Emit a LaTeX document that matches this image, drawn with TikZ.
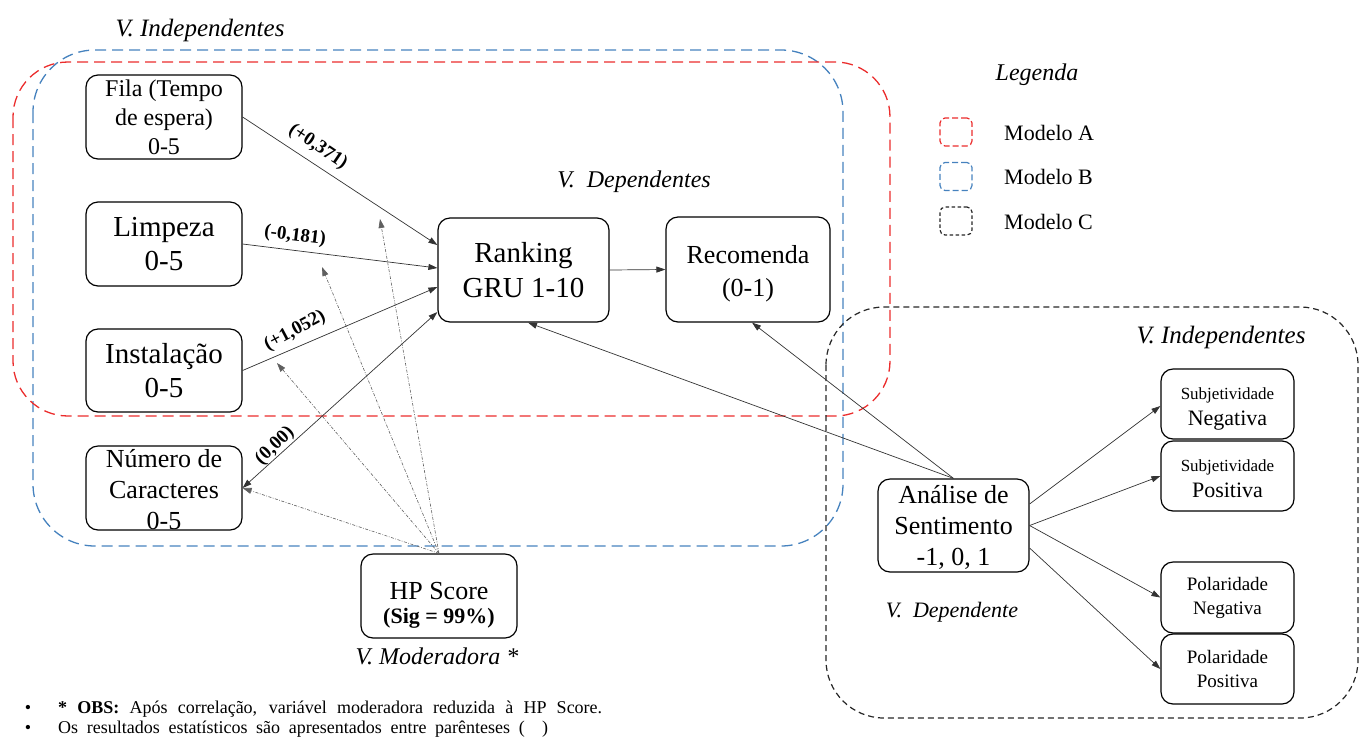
\documentclass[tikz,border=0pt]{standalone}
\usepackage{fontspec}
\setmainfont{Liberation Serif}
\usetikzlibrary{arrows.meta,calc}
\definecolor{redA}{RGB}{235,45,45}
\definecolor{blueB}{RGB}{70,130,190}
\definecolor{grayD}{RGB}{95,95,95}
\newcommand{\fs}[2]{\fontsize{#1}{#2}\selectfont}
\begin{document}
\begin{tikzpicture}[x=1pt,y=-1pt,
  box/.style={draw, line width=1.2pt, rounded corners=12pt, align=center, inner sep=0pt, fill=white},
  btext/.style={align=center, inner sep=0pt},
  conn/.style={line width=0.7pt, draw=black!80, -{Triangle[length=9pt,width=6pt]}},
  modline/.style={line width=0.6pt, draw=grayD, dash pattern=on 3pt off 1.5pt on 0.8pt off 1.5pt, -{Triangle[length=9pt,width=6pt]}},
  coef/.style={font=\fs{19}{21}\bfseries, inner sep=1pt},
  vlab/.style={font=\fs{25}{28}\itshape, inner sep=0pt},
  groupA/.style={draw=redA, line width=1.3pt, dash pattern=on 11pt off 6pt, rounded corners=55pt},
  groupB/.style={draw=blueB, line width=1.3pt, dash pattern=on 11pt off 6pt, rounded corners=62pt},
  groupC/.style={draw=black!85, line width=1.2pt, dash pattern=on 6pt off 4pt, rounded corners=58pt},
  legbox/.style={minimum width=32pt, minimum height=28pt, inner sep=0pt, rounded corners=5pt, line width=1.2pt},
  legtext/.style={font=\fs{22}{24}, anchor=west, inner sep=0pt}
]
\useasboundingbox (0,0) rectangle (1359,740);

% group frames
\draw[groupB] (33,50) rectangle (843,546);
\draw[groupA] (13,62) rectangle (890,416);
\draw[groupC] (826,307) rectangle (1358,718);

% group labels
\node[vlab] (vi1) at (200,30) {V. Independentes};
\node[vlab, font=\fs{24}{28}\itshape] (vd1) at (634,182) {V.\ \ Dependentes};
\node[vlab] (vi2) at (1221,337) {V. Independentes};
\node[vlab, font=\fs{22}{26}\itshape] (vd2) at (952,612) {V.\ \ Dependente};
\node[vlab, font=\fs{24}{28}\itshape] (vm) at (437,656) {V. Moderadora *};

% boxes
\node[box, minimum width=156pt, minimum height=84pt, font=\fs{24}{29}] (fila) at (164,117) {Fila (Tempo\\de espera)\\0-5};
\node[box, minimum width=156pt, minimum height=84pt, font=\fs{29}{34}] (limp) at (164,244) {Limpeza\\0-5};
\node[box, minimum width=156pt, minimum height=83pt, font=\fs{29}{34}] (inst) at (164,370.5) {Instalação\\0-5};
\node[box, minimum width=156pt, minimum height=84pt] (num) at (164,488) {};
\node[btext, font=\fs{26}{31}] (numt) at (164,490) {Número de\\Caracteres\\0-5};
\node[box, minimum width=171pt, minimum height=104pt, font=\fs{29}{35}] (rank) at (523.5,270) {Ranking\\GRU 1-10};
\node[box, minimum width=164pt, minimum height=105pt] (rec) at (748,269.5) {};
\node[btext, font=\fs{26}{33}] (rect) at (748,273.5) {Recomenda\\(0-1)};
\node[box, minimum width=156pt, minimum height=84pt] (hp) at (439,596) {};
\node[btext, font=\fs{26}{24}] (hpt) at (439,605) {HP Score\\{\fs{22}{24}\bfseries (Sig = 99\%)}};
\node[box, minimum width=151pt, minimum height=93pt] (anal) at (953.5,525.5) {};
\node[btext, font=\fs{26}{31}] (analt) at (953.5,527) {Análise de\\Sentimento\\-1, 0, 1};
\node[box, minimum width=133pt, minimum height=70pt] (sneg) at (1227.5,404) {};
\node[btext, font=\fs{22}{26}] (snegt) at (1227.5,408.5) {{\fs{17}{20}Subjetividade}\\Negativa};
\node[box, minimum width=133pt, minimum height=70pt] (spos) at (1227.5,476) {};
\node[btext, font=\fs{22}{26}] (spost) at (1227.5,479) {{\fs{17}{20}Subjetividade}\\Positiva};
\node[box, minimum width=133pt, minimum height=71pt, font=\fs{19}{24}] (pneg) at (1227.5,597.5) {Polaridade\\Negativa};
\node[box, minimum width=133pt, minimum height=70pt, font=\fs{19}{24}] (ppos) at (1227.5,669) {Polaridade\\Positiva};

% main connectors
\draw[conn] (fila.east) -- ([yshift=25pt]rank.west);
\draw[conn] (limp.east) -- ([yshift=2pt]rank.west);
\draw[conn] (inst.east) -- ([yshift=-17pt]rank.west);
\draw[conn, {Triangle[length=9pt,width=6pt]}-{Triangle[length=9pt,width=6pt]}] (num.east) -- ([yshift=-42pt]rank.west);
\draw[conn] (rank.east) -- (rec.west);
\draw[conn] (anal.north) -- ([xshift=4.5pt]rank.south);
\draw[conn] (anal.north) -- ([xshift=4pt]rec.south);
\draw[conn] ([yshift=21.5pt]anal.east) -- ([yshift=-2pt]sneg.west);
\draw[conn] (anal.east) -- (spos.west);
\draw[conn] (anal.east) -- (pneg.west);
\draw[conn] ([yshift=-22.5pt]anal.east) -- (ppos.west);

% moderator connectors
\coordinate (m2) at (277,363);
\coordinate (m3) at (322,267);
\coordinate (m4) at (380,219);
\draw[modline] (hp.north) -- (num.east);
\draw[modline] (hp.north) -- (m2);
\draw[modline] (hp.north) -- (m3);
\draw[modline] (hp.north) -- (m4);

% coefficients
\node[coef, rotate=-34] (c1) at (318,147) {(+0,371)};
\node[coef, rotate=-7] (c2) at (295,236) {(-0,181)};
\node[coef, rotate=28] (c3) at (295,331) {(+1,052)};
\node[coef, rotate=44] (c4) at (275,446) {(0,00)};

% legend
\node[font=\fs{24}{28}\itshape, inner sep=0pt] (leg) at (1037,75) {Legenda};
\node[legbox, draw=redA, dash pattern=on 6pt off 3pt] (la) at (956,132) {};
\node[legbox, draw=blueB, dash pattern=on 6pt off 3pt] (lb) at (956,176.5) {};
\node[legbox, draw=black!85, dash pattern=on 3.5pt off 2.5pt] (lc) at (956,221) {};
\node[legtext] (ta) at (1004,133) {Modelo A};
\node[legtext] (tb) at (1004,177) {Modelo B};
\node[legtext] (tc) at (1004,222) {Modelo C};

% notes
\node[anchor=base, font=\fs{18}{20}, inner sep=0pt] (b1) at (28,713) {•};
\node[anchor=base, font=\fs{18}{20}, inner sep=0pt] (b2) at (28,733) {•};
\node[anchor=base west, font=\fs{18}{20}, inner sep=0pt] (n1) at (58,713) {\makebox[544pt][s]{\textbf{* OBS:} Após correlação, variável moderadora reduzida à HP Score.}};
\node[anchor=base west, font=\fs{18}{20}, inner sep=0pt] (n2) at (58,733) {\makebox[490pt][s]{Os resultados estatísticos são apresentados entre parênteses ( \ )}};
\end{tikzpicture}
\end{document}
